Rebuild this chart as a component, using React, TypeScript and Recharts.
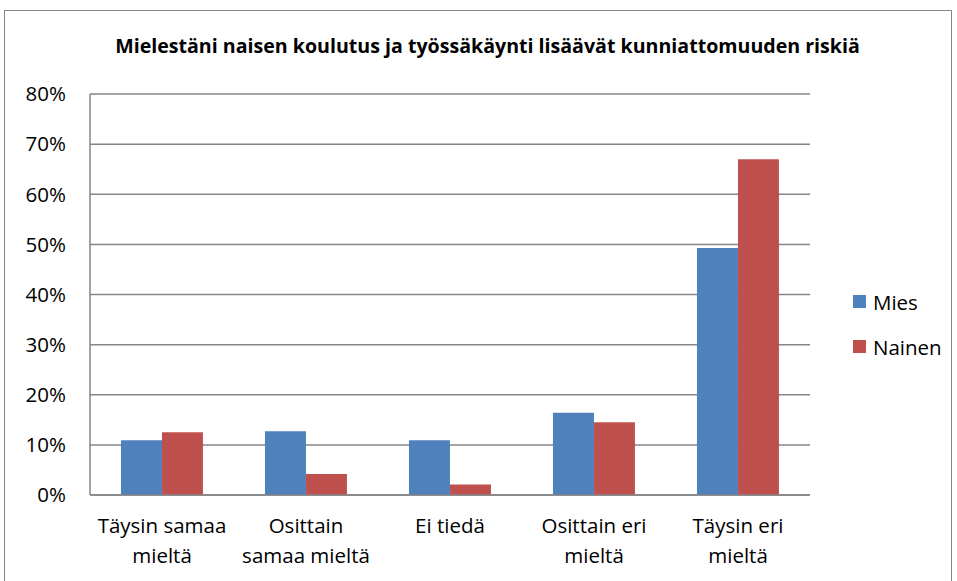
import { BarChart, Bar, XAxis, YAxis, CartesianGrid } from 'recharts';

const categories = [
  ['Täysin samaa', 'mieltä'],
  ['Osittain', 'samaa mieltä'],
  ['Ei tiedä'],
  ['Osittain eri', 'mieltä'],
  ['Täysin eri', 'mieltä'],
];
const mies = [10.9, 12.7, 10.9, 16.4, 49.3];
const nainen = [12.5, 4.2, 2.1, 14.5, 67.0];
const yTicks = [0, 10, 20, 30, 40, 50, 60, 70, 80];
const seriesNames = ['Mies', 'Nainen'];
const seriesColors = ['#4F81BD', '#C0504D'];

const data = categories.map((c, i) => ({
  name: c.join(' '),
  Mies: mies[i],
  Nainen: nainen[i],
}));

const font = '"Open Sans", sans-serif';

const CategoryTick = (props: any) => {
  const { x, y, index } = props;
  const lines = categories[index] || [];
  return (
    <g transform={`translate(${x},${y})`}>
      {lines.map((l, i) => (
        <text key={i} x={0} y={30 + i * 30} textAnchor="middle" fill="#000" fontSize={20.5} fontFamily={font}>
          {l}
        </text>
      ))}
    </g>
  );
};

const App = () => {
  return (
    <div style={{ position: 'absolute', left: 0, top: 0, width: 957, height: 581, background: '#fff', overflow: 'hidden' }}>
      <div style={{ position: 'absolute', left: 4, top: 10, width: 946, height: 600, border: '1.5px solid #868686' }} />
      <div style={{ position: 'absolute', left: 0, top: 33, width: 975, textAlign: 'center', fontFamily: font, fontWeight: 'bold', fontSize: 19.6, lineHeight: '26px', color: '#000' }}>
        Mielestäni naisen koulutus ja työssäkäynti lisäävät kunniattomuuden riskiä
      </div>
      <div style={{ position: 'absolute', left: 0, top: 0 }}>
        <BarChart
          width={957}
          height={581}
          data={data}
          margin={{ top: 94, right: 147, bottom: 0, left: 0 }}
          barCategoryGap="21.5%"
          barGap={0}
        >
          <CartesianGrid vertical={false} stroke="#868686" strokeWidth={1.5} />
          <XAxis
            dataKey="name"
            height={86}
            axisLine={{ stroke: '#868686', strokeWidth: 1.5 }}
            tickLine={false}
            interval={0}
            tick={<CategoryTick />}
          />
          <YAxis
            width={90}
            domain={[0, 80]}
            ticks={yTicks}
            tickFormatter={(v: number) => `${v}%`}
            axisLine={{ stroke: '#868686', strokeWidth: 1.5 }}
            tickLine={false}
            tickMargin={18}
            tick={{ fill: '#000', fontSize: 20.5, fontFamily: font }}
            interval={0}
          />
          <Bar dataKey="Mies" fill={seriesColors[0]} isAnimationActive={false} />
          <Bar dataKey="Nainen" fill={seriesColors[1]} isAnimationActive={false} />
        </BarChart>
      </div>
      <div style={{ position: 'absolute', left: 853, top: 279, fontFamily: font, fontSize: 20.5, color: '#000' }}>
        {seriesNames.map((n, i) => (
          <div key={n} style={{ display: 'flex', alignItems: 'center', height: 45 }}>
            <span style={{ width: 13, height: 13, background: seriesColors[i], display: 'inline-block', marginRight: 7 }} />
            {n}
          </div>
        ))}
      </div>
    </div>
  );
};

export default App;
